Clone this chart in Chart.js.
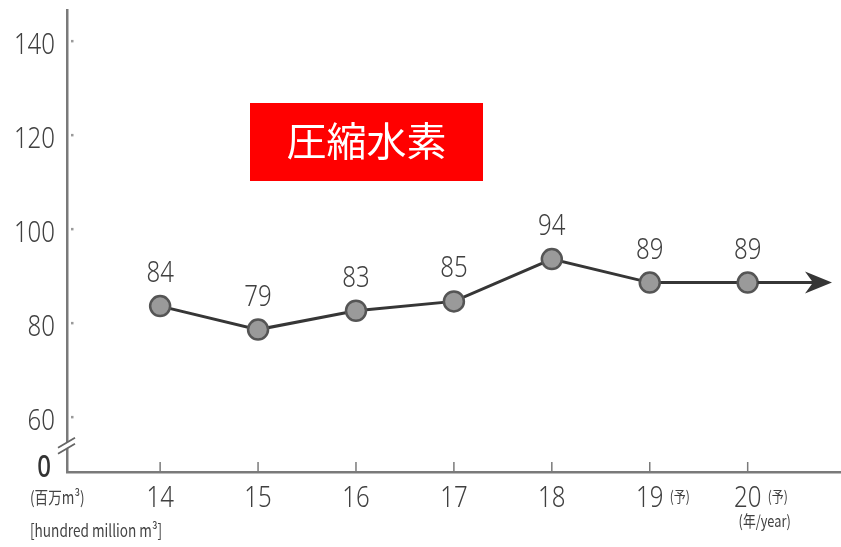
<!DOCTYPE html>
<html>
<head>
<meta charset="utf-8">
<script src="https://cdn.jsdelivr.net/npm/chart.js@4/dist/chart.umd.min.js"></script>
<style>
  html, body { margin: 0; padding: 0; background: #fff; }
  #wrap { width: 841px; height: 547px; position: relative; }
</style>
</head>
<body>
<div id="wrap"><canvas id="c"></canvas></div>
<script>
// Compressed hydrogen demand, hundred million m3, by year (19 and 20 forecast)
const years = [14, 15, 16, 17, 18, 19, 20];
const values = [84, 79, 83, 85, 94, 89, 89];
const forecast = [false, false, false, false, false, true, true];
const yTickValues = [60, 80, 100, 120, 140];
const zeroLabelValue = 48.7;   // axis is broken: bottom of the axis stands for 0
const title = '圧縮水素';
const unitJa = '(百万m³)';
const unitEn = '[hundred million m³]';
const forecastMark = '(予)';
const yearLabel = '(年/year)';

const NUM_FONT = '"Noto Sans", "DejaVu Sans", sans-serif';
const CJK_FONT = '"Noto Sans CJK JP", "Noto Sans", sans-serif';
const TEXT = '#404040';
const AXIS = '#7a7a7a';
const SQUEEZE = 0.8;   // narrow lettering

function narrowText(ctx, text, x, y, font, align, baseline) {
  ctx.save();
  ctx.font = font;
  ctx.textAlign = align;
  ctx.textBaseline = baseline;
  ctx.translate(x, y);
  ctx.scale(SQUEEZE, 1);
  ctx.fillText(text, 0, 0);
  ctx.restore();
}

const decorations = {
  id: 'decorations',
  afterDatasetsDraw(chart) {
    const ctx = chart.ctx;
    const xs = chart.scales.x, ys = chart.scales.y;
    const area = chart.chartArea;
    const meta = chart.getDatasetMeta(0);
    ctx.save();

    // arrow continuing the line past the last year
    const last = meta.data[meta.data.length - 1];
    const tipX = area.right - 9;
    ctx.strokeStyle = '#363636';
    ctx.lineWidth = 3;
    ctx.beginPath();
    ctx.moveTo(last.x + 10, last.y);
    ctx.lineTo(tipX - 10, last.y);
    ctx.stroke();
    ctx.fillStyle = '#363636';
    ctx.beginPath();
    ctx.moveTo(tipX, last.y);
    ctx.lineTo(tipX - 27, last.y - 11);
    ctx.lineTo(tipX - 19, last.y);
    ctx.lineTo(tipX - 27, last.y + 11);
    ctx.closePath();
    ctx.fill();

    // value labels above the points
    ctx.fillStyle = TEXT;
    meta.data.forEach((pt, i) => {
      narrowText(ctx, String(values[i]), pt.x, pt.y - 24, '300 30px ' + NUM_FONT, 'center', 'alphabetic');
    });

    // y tick labels and small dots on the axis
    yTickValues.forEach(v => {
      const y = ys.getPixelForValue(v);
      ctx.fillStyle = TEXT;
      narrowText(ctx, String(v), 55, y + 11, '300 30px ' + NUM_FONT, 'right', 'alphabetic');
      ctx.fillStyle = '#9a9a9a';
      ctx.fillRect(area.left + 4, y - 3, 2.5, 2.5);
    });
    ctx.fillStyle = '#333';
    narrowText(ctx, '0', 51, ys.getPixelForValue(zeroLabelValue) + 5,
      '500 30px ' + NUM_FONT, 'right', 'alphabetic');

    // x tick marks and labels
    ctx.strokeStyle = AXIS;
    ctx.lineWidth = 1.5;
    years.forEach((yr, i) => {
      const x = xs.getPixelForValue(yr);
      ctx.beginPath();
      ctx.moveTo(x, area.bottom - 10);
      ctx.lineTo(x, area.bottom);
      ctx.stroke();
      ctx.fillStyle = TEXT;
      narrowText(ctx, String(yr), x, area.bottom + 35, '300 30px ' + NUM_FONT, 'center', 'alphabetic');
      if (forecast[i]) {
        narrowText(ctx, forecastMark, x + 20, area.bottom + 24, '15px ' + CJK_FONT, 'left', 'middle');
      }
    });
    ctx.fillStyle = TEXT;
    narrowText(ctx, yearLabel, xs.getPixelForValue(years[years.length - 1]) + 17, area.bottom + 49,
      '16px ' + CJK_FONT, 'center', 'middle');

    // axis break mark
    const by = ys.getPixelForValue(54.5);
    ctx.fillStyle = '#fff';
    ctx.beginPath();
    ctx.moveTo(area.left - 9, by + 3);
    ctx.lineTo(area.left + 8, by - 7);
    ctx.lineTo(area.left + 8, by - 1);
    ctx.lineTo(area.left - 9, by + 9);
    ctx.closePath();
    ctx.fill();
    ctx.strokeStyle = '#666';
    ctx.lineWidth = 1.8;
    ctx.beginPath();
    ctx.moveTo(area.left - 9, by + 3);
    ctx.lineTo(area.left + 8, by - 7);
    ctx.moveTo(area.left - 9, by + 9);
    ctx.lineTo(area.left + 8, by - 1);
    ctx.stroke();

    // unit labels
    ctx.fillStyle = '#444';
    narrowText(ctx, unitJa, 30, area.bottom + 26, '17px ' + CJK_FONT, 'left', 'middle');
    narrowText(ctx, unitEn, 30, area.bottom + 59, '17px ' + CJK_FONT, 'left', 'middle');

    // title box
    ctx.fillStyle = '#ff0000';
    ctx.fillRect(250, 103, 233, 78);
    ctx.fillStyle = '#ffffff';
    ctx.font = '40px ' + CJK_FONT;
    ctx.textAlign = 'center';
    ctx.textBaseline = 'middle';
    ctx.fillText(title, 366.5, 141);

    ctx.restore();
  }
};

new Chart(document.getElementById('c'), {
  type: 'line',
  data: {
    datasets: [{
      data: values.map((v, i) => ({ x: years[i], y: v })),
      borderColor: '#363636',
      borderWidth: 3,
      pointRadius: 10,
      pointBackgroundColor: '#9a9a9a',
      pointBorderColor: '#555',
      pointBorderWidth: 2.5,
      tension: 0
    }]
  },
  options: {
    responsive: true,
    maintainAspectRatio: false,
    animation: false,
    layout: { autoPadding: false, padding: { top: 10, right: 0, left: 0, bottom: 0 } },
    plugins: { legend: { display: false }, tooltip: { enabled: false } },
    scales: {
      x: {
        type: 'linear',
        min: 13.049,
        max: 20.953,
        afterBuildTicks(scale) { scale.ticks = years.map(v => ({ value: v })); },
        afterFit(scale) { scale.height = 75; },
        grid: { display: false, drawTicks: false },
        border: { display: true, color: AXIS, width: 2.5 },
        ticks: { display: false }
      },
      y: {
        type: 'linear',
        min: zeroLabelValue,
        max: 147,
        afterBuildTicks(scale) { scale.ticks = yTickValues.map(v => ({ value: v })); },
        afterFit(scale) { scale.width = 67; },
        grid: { display: false, drawTicks: false },
        border: { display: true, color: AXIS, width: 2.5 },
        ticks: { display: false }
      }
    }
  },
  plugins: [decorations]
});
</script>
</body>
</html>
